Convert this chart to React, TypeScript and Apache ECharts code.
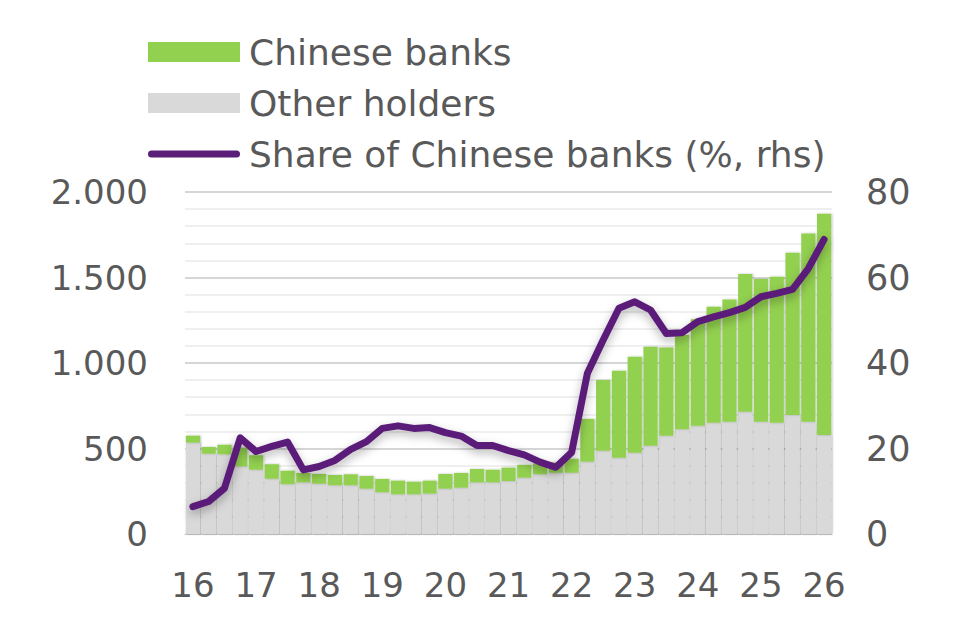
import React, { useEffect, useRef } from "react";
import * as echarts from "echarts";

const years = ["16", "17", "18", "19", "20", "21", "22", "23", "24", "25", "26"];
const quarters = ["Q1", "Q2", "Q3", "Q4"];

// Chinese banks holdings (stacked on top)
const chineseBanks = [
  41, 39, 56, 110, 84, 85, 79, 55, 57, 60,
  64, 74, 78, 80, 74, 76, 86, 86, 78, 74,
  78, 75, 64, 60, 82, 250, 414, 509, 562, 579,
  515, 552, 623, 678, 715, 805, 834, 854, 949, 1101,
  1294,
];
// Other holders
const otherHolders = [
  534, 470, 466, 395, 376, 323, 291, 302, 294, 285,
  285, 265, 244, 232, 232, 236, 265, 271, 302, 302,
  310, 329, 349, 358, 358, 423, 487, 446, 475, 516,
  575, 612, 633, 651, 657, 715, 657, 651, 696, 657,
  579,
];
// Share of Chinese banks (%, rhs)
const shareChinese = [
  6.4, 7.6, 10.7, 22.5, 19.3, 20.5, 21.5, 15.0, 15.8, 17.2,
  19.8, 21.6, 24.7, 25.3, 24.7, 24.9, 23.7, 22.9, 20.7, 20.7,
  19.5, 18.5, 16.8, 15.6, 19.1, 37.6, 45.4, 52.8, 54.3, 52.4,
  46.9, 47.1, 49.7, 50.8, 51.8, 53.0, 55.5, 56.3, 57.2, 62.1,
  68.9,
];

const categories: string[] = [];
years.forEach((y, i) => {
  if (i < years.length - 1) {
    quarters.forEach((q) => categories.push(y + " " + q));
  } else {
    categories.push(y + " " + quarters[0]);
  }
});

const FONT = "DejaVu Sans";
const TEXT = "#595959";
const GREEN = "#92D050";
const GREY = "#D9D9D9";
const PURPLE = "#5A1E78";

export default function App() {
  const ref = useRef<HTMLDivElement>(null);
  useEffect(() => {
    if (!ref.current) return;
    const chart = echarts.init(ref.current, undefined, { renderer: "svg" });
    chart.setOption({
      animation: false,
      backgroundColor: "#ffffff",
      textStyle: { fontFamily: FONT },
      legend: {
        orient: "vertical",
        left: 148,
        top: 32,
        padding: 0,
        itemWidth: 92,
        itemHeight: 20,
        itemGap: 11,
        selectedMode: false,
        textStyle: {
          fontFamily: FONT,
          fontSize: 36,
          color: TEXT,
          lineHeight: 40,
          padding: [0, 0, 0, 4],
        },
        data: [
          { name: "Chinese banks", icon: "rect" },
          { name: "Other holders", icon: "rect" },
          {
            name: "Share of Chinese banks (%, rhs)",
            icon: "path://M3.5,0 H88.5 A3.5,3.5 0 0 1 88.5,7 H3.5 A3.5,3.5 0 0 1 3.5,0 Z",
          },
        ],
      },
      grid: { left: 185, right: 138, top: 192, bottom: 84, containLabel: false },
      xAxis: {
        type: "category",
        data: categories,
        boundaryGap: true,
        axisTick: { show: false },
        axisLine: { show: true, lineStyle: { color: "#cfcfcf", width: 1 } },
        axisLabel: {
          interval: 3,
          margin: 34,
          fontFamily: FONT,
          fontSize: 34,
          color: TEXT,
          formatter: (v: string) => v.split(" ")[0],
        },
      },
      yAxis: [
        {
          type: "value",
          min: 0,
          max: 2000,
          interval: 500,
          axisLine: { show: false },
          axisTick: { show: false },
          axisLabel: {
            margin: 37,
            fontFamily: FONT,
            fontSize: 34,
            color: TEXT,
            formatter: (v: number) =>
              v >= 1000 ? Math.floor(v / 1000) + "." + String(v % 1000).padStart(3, "0") : String(v),
          },
          splitLine: { show: true, lineStyle: { color: "#d6d6d6", width: 2 } },
          minorTick: { show: false, splitNumber: 5 },
          minorSplitLine: { show: true, lineStyle: { color: "#efefef", width: 2 } },
        },
        {
          type: "value",
          min: 0,
          max: 80,
          interval: 20,
          position: "right",
          axisLine: { show: false },
          axisTick: { show: false },
          splitLine: { show: false },
          axisLabel: {
            margin: 34,
            fontFamily: FONT,
            fontSize: 35,
            color: TEXT,
          },
        },
      ],
      series: [
        {
          name: "Other holders",
          type: "bar",
          stack: "total",
          data: otherHolders,
          barCategoryGap: "10%",
          itemStyle: {
            color: GREY,
            shadowColor: "rgba(0,0,0,0.35)",
            shadowBlur: 2,
            shadowOffsetX: 1,
          },
        },
        {
          name: "Chinese banks",
          type: "bar",
          stack: "total",
          data: chineseBanks,
          barCategoryGap: "10%",
          itemStyle: {
            color: GREEN,
            shadowColor: "rgba(0,0,0,0.25)",
            shadowBlur: 2,
            shadowOffsetX: 1,
          },
        },
        {
          name: "Share of Chinese banks (%, rhs)",
          type: "line",
          yAxisIndex: 1,
          data: shareChinese,
          symbol: "none",
          itemStyle: { color: PURPLE },
          lineStyle: {
            color: PURPLE,
            width: 7,
            cap: "round",
            join: "round",
            shadowColor: "rgba(0,0,0,0.3)",
            shadowBlur: 10,
            shadowOffsetY: 4,
          },
        },
      ],
    });
    return () => chart.dispose();
  }, []);
  return (
    <div
      ref={ref}
      style={{ position: "fixed", left: 0, top: 0, width: 970, height: 618, background: "#fff" }}
    />
  );
}
